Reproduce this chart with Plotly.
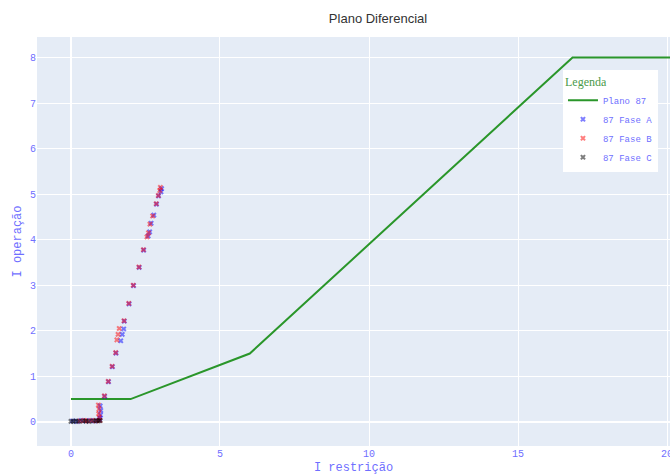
import plotly.graph_objects as go

# Characteristic curve (Plano 87)
curve_x = [0, 2, 6, 16.83, 21]
curve_y = [0.5, 0.5, 1.5, 8, 8]

# Fase A points
a_x = [0.05, 0.2, 0.35, 0.5, 0.65, 0.8, 0.95, 0.97, 0.99, 1.00, 0.98,
       1.13, 1.26, 1.39, 1.51, 1.67, 1.72, 1.77, 1.79, 1.95, 2.10, 2.29, 2.44,
       2.59, 2.64, 2.69, 2.78, 2.87, 2.94, 3.02, 3.04]
a_y = [0.02, 0.01, 0.03, 0.02, 0.03, 0.02, 0.04, 0.08, 0.15, 0.25, 0.35,
       0.56, 0.88, 1.21, 1.51, 1.78, 1.92, 2.04, 2.21, 2.59, 2.99, 3.39, 3.77,
       4.08, 4.17, 4.36, 4.54, 4.78, 4.96, 5.05, 5.12]

# Fase B points
b_x = [0.3, 0.45, 0.55, 0.7, 0.85, 0.97, 0.95, 0.93, 0.94, 0.92,
       1.12, 1.25, 1.38, 1.50, 1.54, 1.58, 1.62, 1.78, 1.94, 2.09, 2.28, 2.43,
       2.55, 2.60, 2.65, 2.74, 2.86, 2.93, 2.98, 3.00]
b_y = [0.02, 0.03, 0.02, 0.03, 0.02, 0.03, 0.10, 0.18, 0.28, 0.37,
       0.57, 0.89, 1.22, 1.52, 1.80, 1.92, 2.05, 2.22, 2.60, 3.00, 3.40, 3.78,
       4.06, 4.15, 4.34, 4.52, 4.79, 4.97, 5.08, 5.15]

# Fase C points
c_x = [0.0, 0.08, 0.16, 0.25, 0.4, 0.5, 0.6, 0.75, 0.85, 0.92, 0.98]
c_y = [0.01, 0.01, 0.02, 0.01, 0.02, 0.02, 0.01, 0.02, 0.03, 0.02, 0.03]

MONO = "Courier New, Liberation Mono, monospace"
TXT = "#6f6fff"

W, H = 670, 475

fig = go.Figure()
fig.add_trace(go.Scatter(x=curve_x, y=curve_y, mode="lines", name="Plano 87",
                         line=dict(color="#2a962a", width=2)))
fig.add_trace(go.Scatter(x=a_x, y=a_y, mode="markers", name="87 Fase A",
                         marker=dict(symbol="x", color="blue", size=5, opacity=0.5)))
fig.add_trace(go.Scatter(x=b_x, y=b_y, mode="markers", name="87 Fase B",
                         marker=dict(symbol="x", color="red", size=5, opacity=0.5)))
fig.add_trace(go.Scatter(x=c_x, y=c_y, mode="markers", name="87 Fase C",
                         marker=dict(symbol="x", color="black", size=5, opacity=0.5)))

fig.update_layout(
    width=W, height=H,
    margin=dict(l=37, r=0, t=37, b=29, autoexpand=False),
    paper_bgcolor="white",
    plot_bgcolor="#e5ecf6",
    title=dict(text="Plano Diferencial", x=378 / W, xref="container", xanchor="center",
               y=1 - 18 / H, yref="container", yanchor="middle",
               font=dict(family="Arial, Liberation Sans, sans-serif", size=13, color="#333333")),
    legend=dict(title=dict(text="Legenda", font=dict(family="Liberation Serif, serif", size=12, color="#4a9a4a")),
                x=0.981, xanchor="right", y=0.919, yanchor="top",
                bgcolor="white", tracegroupgap=0,
                font=dict(family=MONO, size=9, color=TXT)),
    xaxis=dict(range=[-1.14, 20.1], automargin=False, ticklabeloverflow="allow",
               title=dict(text="I restrição", standoff=8, font=dict(family=MONO, size=12, color=TXT)),
               tickfont=dict(family=MONO, size=10, color=TXT),
               gridcolor="white", zerolinecolor="white", zerolinewidth=2, dtick=5),
    yaxis=dict(range=[-0.53, 8.45], automargin=False,
               title=dict(text="I operação", standoff=5, font=dict(family=MONO, size=12, color=TXT)),
               tickfont=dict(family=MONO, size=10, color=TXT),
               gridcolor="white", zerolinecolor="white", zerolinewidth=2, dtick=1),
)

fig.write_html("out.html", config={"displayModeBar": False},
               post_script="document.body.style.margin='0';document.body.style.overflow='hidden';")
